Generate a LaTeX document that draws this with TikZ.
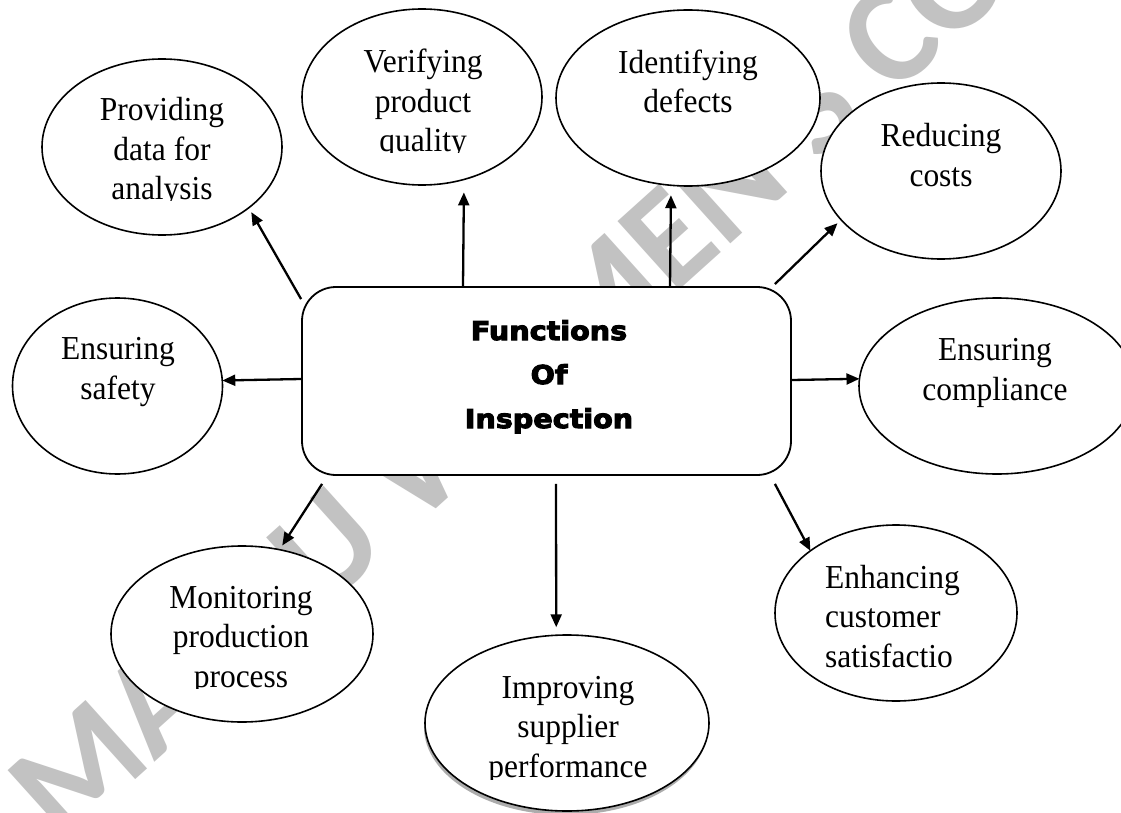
\documentclass[tikz,border=0pt]{standalone}
\usepackage{fontspec}
\setmainfont{Liberation Serif}[FakeStretch=0.94]
\newfontfamily\hubfont[UprightFont=* Bold,FakeStretch=1.1,FakeBold=4]{DejaVu Sans}
\newfontfamily\wmfont[UprightFont=* Bold]{Carlito}
\usetikzlibrary{arrows.meta,shapes.geometric}

\begin{document}
\begin{tikzpicture}[x=1pt,y=-1pt,
  bubble/.style={ellipse,draw,line width=1.6pt,fill=white,inner sep=0pt,outer sep=0pt},
  shadowbubble/.style={ellipse,fill=gray!65,inner sep=0pt,outer sep=0pt},
  label/.style={inner sep=0pt,align=center,anchor=base,
    font=\fontsize{33.5}{39.5}\selectfont},
  hub/.style={draw,line width=1.8pt,rounded corners=34pt,fill=white,inner sep=0pt},
  title/.style={inner sep=0pt,align=center,anchor=base,
    font=\hubfont\fontsize{26}{44}\selectfont},
  arr/.style={line width=2.3pt,-{Triangle[length=13pt,width=11pt]}},
  wmtext/.style={inner sep=0pt,text=gray!48,anchor=base west,
    font=\wmfont\fontsize{142}{142}\selectfont}]

\useasboundingbox (0,0) rectangle (1121,813);
\fill[white] (0,0) rectangle (1121,813);

% faint diagonal watermark behind the diagram
\node[wmtext,rotate=42] (wm) at (62,846) {MANJU WOMEN'S COLLEGE};

% central box
\node[hub,minimum width=489pt,minimum height=188pt] (hub) at (546.5,381) {};
\node[title] (title) at (549,428) {Functions\\Of\\Inspection};

% surrounding ellipses
\node[bubble,minimum width=240pt,minimum height=176pt] (prov) at (162,147) {};
\node[bubble,minimum width=240pt,minimum height=176pt] (ver)  at (422,97) {};
\node[bubble,minimum width=264pt,minimum height=176pt] (ide)  at (688,98) {};
\node[bubble,minimum width=240pt,minimum height=176pt] (red)  at (941,171) {};
\node[bubble,minimum width=210pt,minimum height=176pt] (saf)  at (117.5,386) {};
\node[bubble,minimum width=276pt,minimum height=176pt] (com)  at (997,386) {};
\node[bubble,minimum width=262pt,minimum height=176pt] (mon)  at (242,634) {};
\node[shadowbubble,minimum width=284pt,minimum height=176pt] (impshadow) at (566,727) {};
\node[bubble,minimum width=284pt,minimum height=176pt] (imp)  at (567,723) {};
\node[bubble,minimum width=242pt,minimum height=176pt] (enh)  at (896,613) {};

% ellipse texts, placed by the baseline of their last line
% (the last line of some is cut off by its text frame)
\begin{scope}
  \clip (40,60) rectangle (290,201);
  \node[label] (provtext) at (162,200) {Providing\\data for\\analysis};
\end{scope}
\begin{scope}
  \clip (300,20) rectangle (545,153);
  \node[label] (vertext) at (423,152) {Verifying\\product\\quality};
\end{scope}
\node[label] (idetext) at (688,113) {Identifying\\defects};
\node[label] (redtext) at (941,186) {Reducing\\costs};
\node[label] (saftext) at (118,399) {Ensuring\\safety};
\node[label] (comtext) at (995,400) {Ensuring\\compliance};
\begin{scope}
  \clip (110,560) rectangle (375,688);
  \node[label] (montext) at (241,687) {Monitoring\\production\\process};
\end{scope}
\begin{scope}
  \clip (425,650) rectangle (710,779);
  \node[label] (imptext) at (568,777) {Improving\\supplier\\performance};
\end{scope}
\node[label,align=left,anchor=base west] (enhtext) at (825,667) {Enhancing\\customer\\satisfactio};

% connectors from the central box
\draw[arr,shorten >=5pt]  ([shift={(0,13)}]hub.north west) -- (prov.-35.8);
\draw[arr,shorten >=13pt] ([shift={(-83.5,0)}]hub.north) -- (ver.-63.6);
\draw[arr,shorten >=10pt] ([shift={(123.5,0)}]hub.north) -- (ide.-101.7);
\draw[arr,shorten >=5pt]  ([shift={(-17,-2)}]hub.north east) -- (red.-154.3);
\draw[arr]                ([shift={(0,-2)}]hub.west) -- (saf.3.8);
\draw[arr]                ([shift={(0,-1)}]hub.east) -- (com.177.5);
\draw[arr,shorten >=5pt]  ([shift={(21,8)}]hub.south west) -- (mon.66.3);
\draw[arr,shorten >=8pt]  ([shift={(9.5,8)}]hub.south) -- (imp.97.1);
\draw[arr]                ([shift={(-17,8)}]hub.south east) -- (enh.144.5);
\end{tikzpicture}
\end{document}
